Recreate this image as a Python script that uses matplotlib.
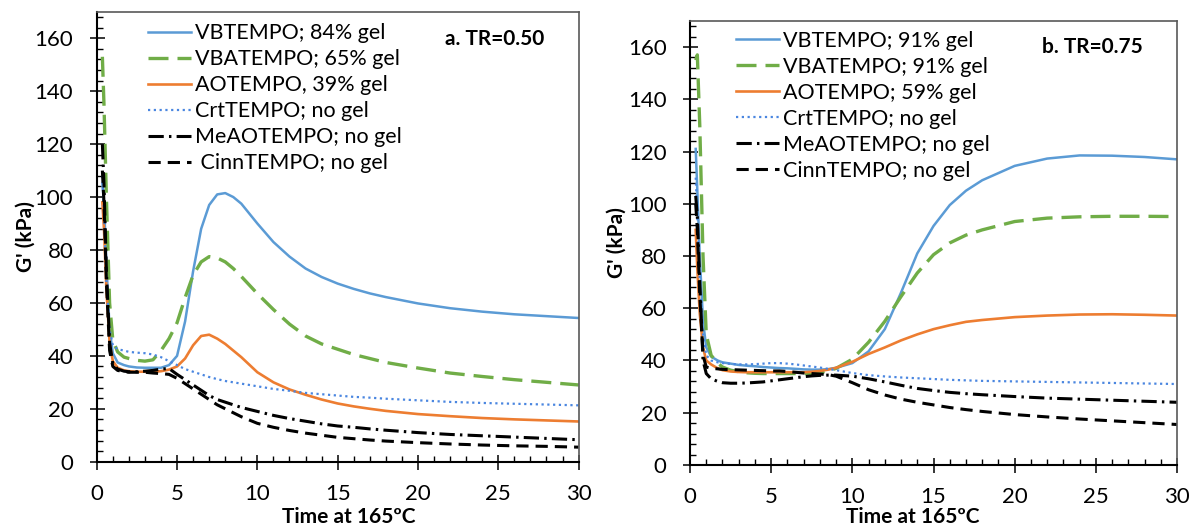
import numpy as np
import matplotlib
matplotlib.use('Agg')
import matplotlib.pyplot as plt
from matplotlib.ticker import MultipleLocator

plt.rcParams['font.family'] = ['Lato', 'DejaVu Sans']
plt.rcParams['font.size'] = 15

# time at 165 C (min)
time = [0.35, 0.45, 0.6, 0.8, 1.0, 1.3, 1.7, 2.0, 2.5, 3.0, 3.5, 4.0, 4.5, 5.0, 5.5,
        6.0, 6.5, 7.0, 7.5, 8.0, 8.5, 9.0, 10, 11, 12, 13, 14, 15, 16, 17, 18,
        20, 22, 24, 26, 28, 30]

# panel a, TR = 0.50 (G', kPa)
vb_a = [105, 98, 75, 50, 41, 37.5, 36.5, 36, 35.6, 35.5, 35.5, 35.5, 36.5, 40, 53,
        72, 88, 97, 101, 101.5, 100, 97.5, 90, 83, 77.5, 73, 69.8, 67.3, 65.3, 63.6, 62.2,
        59.8, 58, 56.7, 55.7, 55, 54.3]
vba_a = [153, 135, 100, 60, 46, 41.5, 39.5, 39, 38.3, 38, 38.5, 42, 46.5, 52.5, 62,
         70.5, 75.5, 77.5, 77, 75.5, 73, 70, 63.5, 57.5, 52, 47.5, 44.5, 42.5, 40.5, 39, 37.5,
         35.4, 33.5, 32.2, 31, 30, 29]
ao_a = [98, 88, 65, 45, 38, 35.5, 34.5, 34.2, 34, 34, 34, 34.2, 34.8, 36, 39,
        44, 47.5, 48, 46.5, 44.5, 42, 39.5, 33.8, 30, 27.3, 25.3, 23.5, 22, 20.9, 20, 19.2,
        18, 17.2, 16.5, 16, 15.6, 15.2]
crt_a = [108, 95, 68, 50, 44, 42.5, 42, 41.5, 41.2, 41, 40.5, 39.5, 38, 36.5, 35,
         34, 33, 32, 31.2, 30.5, 30, 29.5, 28.5, 27.5, 26.8, 26, 25.5, 25, 24.5, 24.2, 23.8,
         23.2, 22.6, 22.2, 21.9, 21.6, 21.3]
meao_a = [120, 105, 72, 45, 37, 35, 34.2, 34, 34, 34.2, 34.5, 35, 35.2, 33, 31,
          29, 27, 25, 23.5, 22.5, 21.5, 20.5, 19, 17.5, 16.3, 15.3, 14.3, 13.5, 13, 12.4, 11.9,
          11, 10.3, 9.8, 9.3, 8.8, 8.3]
cinn_a = [110, 98, 68, 42, 36, 34.5, 34, 33.8, 33.8, 33.8, 33.5, 33.3, 33, 31.5, 29.5,
          27.5, 25.5, 23.5, 21.5, 20, 18.5, 17, 14.5, 13, 11.8, 10.8, 10, 9.2, 8.7, 8.2, 7.8,
          7.2, 6.7, 6.3, 6, 5.8, 5.5]

# panel b, TR = 0.75 (G', kPa)
vb_b = [121, 105, 80, 55, 45, 41.5, 40, 39.3, 38.8, 38.3, 38, 37.8, 37.5, 37.3, 37.1,
        37, 36.8, 36.6, 36.5, 36.5, 36.7, 37.2, 39, 43.5, 52, 66, 81, 91.5, 99.5, 105, 109,
        114.5, 117.3, 118.5, 118.4, 117.9, 117]
vba_b = [155, 157, 130, 80, 50, 42, 39, 37.5, 36.3, 35.7, 35.3, 35.1, 35, 35, 35,
         35, 35, 35, 35.1, 35.4, 36, 37, 40.5, 47, 55, 64.5, 73.5, 80.5, 85, 88, 90,
         93.2, 94.5, 95, 95.2, 95.2, 95.1]
ao_b = [90, 75, 58, 45, 40, 38.5, 37, 36.3, 35.8, 35.6, 35.5, 35.5, 35.5, 35.5, 35.5,
        35.5, 35.5, 35.5, 35.7, 36, 36.5, 37.2, 39.5, 42.5, 45, 47.7, 50, 52, 53.5, 54.8, 55.5,
        56.6, 57.2, 57.6, 57.7, 57.5, 57.2]
crt_b = [110, 95, 70, 50, 42, 40, 39.3, 39, 38.7, 38.5, 38.5, 38.6, 38.8, 39, 39,
         38.8, 38.5, 38.1, 37.7, 37.3, 36.8, 36.3, 35.2, 34.4, 33.9, 33.5, 33.2, 32.9, 32.6, 32.4, 32.2,
         32, 31.8, 31.6, 31.4, 31.2, 31]
meao_b = [103, 95, 70, 40, 35, 33, 32, 31.5, 31.3, 31.3, 31.4, 31.6, 31.8, 32.2, 32.6,
          33, 33.4, 33.8, 34.1, 34.3, 34.4, 34.4, 34, 33, 31.8, 30.5, 29.3, 28.5, 27.8, 27.3, 26.9,
          26.2, 25.6, 25.2, 24.8, 24.4, 24]
cinn_b = [100, 90, 65, 42, 37.5, 37, 36.8, 36.6, 36.5, 36.4, 36.3, 36.2, 36.1, 36, 36,
          35.8, 35.5, 35.2, 35, 34.8, 34.6, 34, 31.5, 28.8, 26.8, 25.2, 24, 23, 22, 21.2, 20.5,
          19.3, 18.4, 17.6, 16.9, 16.2, 15.5]

labels_a = ['VBTEMPO; 84% gel', 'VBATEMPO; 65% gel', 'AOTEMPO, 39% gel',
            'CrtTEMPO; no gel', 'MeAOTEMPO; no gel', ' CinnTEMPO; no gel']
labels_b = ['VBTEMPO; 91% gel', 'VBATEMPO; 91% gel', 'AOTEMPO; 59% gel',
            'CrtTEMPO; no gel', 'MeAOTEMPO; no gel', 'CinnTEMPO; no gel']

styles = [
    dict(color='#5B9BD5', lw=1.8, ls='-'),
    dict(color='#70AD47', lw=2.4, ls=(0, (6, 2.7))),
    dict(color='#ED7D31', lw=1.9, ls='-'),
    dict(color='#4A86E0', lw=1.6, ls=(0, (1, 1.6))),
    dict(color='black', lw=2.2, ls=(0, (5, 1.7, 0.8, 1.7))),
    dict(color='black', lw=2.2, ls=(0, (4, 2.3))),
]

fig = plt.figure(figsize=(11.93, 5.29), dpi=100)
ax1 = fig.add_axes([0.0811, 0.1272, 0.4039, 0.8505])
ax2 = fig.add_axes([0.5784, 0.1210, 0.4082, 0.8395])

panels = [
    (ax1, [vb_a, vba_a, ao_a, crt_a, meao_a, cinn_a], labels_a, 'a. TR=0.50',
     (0.928, 0.939), (0.1059, 0.975), (0.524, -0.101), (-0.126, 0.5)),
    (ax2, [vb_b, vba_b, ao_b, crt_b, meao_b, cinn_b], labels_b, 'b. TR=0.75',
     (0.93, 0.942), (0.0945, 0.978), (0.458, -0.095), (-0.131, 0.5)),
]

for ax, series, labels, tag, tagpos, legpos, xlpos, ylpos in panels:
    for y, lab, st in zip(series, labels, styles):
        ax.plot(time, y, label=lab, color=st['color'], lw=st['lw'], linestyle=st['ls'])

    ax.set_xlim(0, 30)
    ax.set_ylim(0, 170)
    ax.xaxis.set_major_locator(MultipleLocator(5))
    ax.xaxis.set_minor_locator(MultipleLocator(1))
    ax.yaxis.set_minor_locator(MultipleLocator(4))
    ax.set_yticks(np.arange(0, 161, 20))
    ax.tick_params(which='major', direction='inout', length=10.8, width=1.1, pad=11.5,
                   labelsize=16)
    ax.tick_params(axis='x', which='major', pad=10.5)
    ax.tick_params(which='minor', direction='in', length=4, width=1)

    for side in ['left', 'bottom']:
        ax.spines[side].set_color('black')
        ax.spines[side].set_linewidth(1.5)
    for side in ['top', 'right']:
        ax.spines[side].set_color('#595959')
        ax.spines[side].set_linewidth(1.2)

    ax.set_xlabel('Time at 165ºC', fontweight='bold', fontsize=15)
    ax.set_ylabel("G' (kPa)", fontweight='bold', fontsize=15)
    ax.xaxis.set_label_coords(*xlpos)
    ax.yaxis.set_label_coords(*ylpos)

    ax.text(tagpos[0], tagpos[1], tag, transform=ax.transAxes, ha='right', va='center',
            fontweight='bold', fontsize=15)

    ax.legend(loc='upper left', bbox_to_anchor=legpos, frameon=False, fontsize=15.5,
              handlelength=2.0, handletextpad=0.2, labelspacing=0.28,
              borderpad=0, borderaxespad=0)

fig.savefig('out.png', dpi=100)
